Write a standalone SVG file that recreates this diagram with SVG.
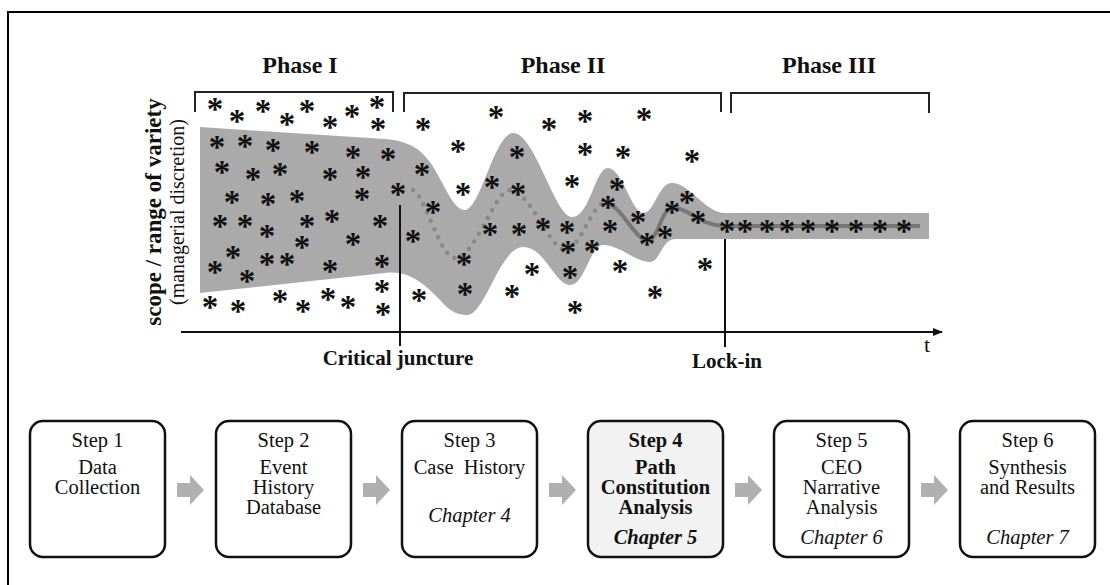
<svg xmlns="http://www.w3.org/2000/svg" width="1110" height="585" viewBox="0 0 1110 585">
  <style>
    .ph { font: bold 24px "Liberation Serif", serif; text-anchor: middle; fill: #111; }
    .ax { font: bold 21px "Liberation Serif", serif; text-anchor: middle; fill: #111; }
    .ylab { font: bold 23px "Liberation Serif", serif; text-anchor: middle; fill: #111; }
    .ysub { font: 20px "Liberation Serif", serif; text-anchor: middle; fill: #111; }
    .a { font: bold 33px "Liberation Serif", serif; text-anchor: middle; fill: #111; }
    .brk { fill: none; stroke: #222; stroke-width: 2; }
    .box { fill: #fff; stroke: #111; stroke-width: 2.5; }
    .box.hl { fill: #f2f2f2; }
    .bt { font: 20.5px "Liberation Serif", serif; text-anchor: middle; fill: #111; }
    .bt.b { font-weight: bold; }
    .bt.i { font-style: italic; }
    .blk { fill: #b0b0b0; }
  </style>
  <defs>
    <path id="blockArrow" d="M0,8 H13 V0 L27,15 L13,30 V22 H0 Z"/>
    <marker id="axHead" markerWidth="10" markerHeight="8" refX="9" refY="4" orient="auto" markerUnits="userSpaceOnUse">
      <path d="M0,0 L10,4 L0,8 Z" fill="#111"/>
    </marker>
  </defs>

  <rect width="1110" height="585" fill="#fff"/>
  <!-- outer frame (top and left edges) -->
  <path d="M8,585 V12 H1110" fill="none" stroke="#000" stroke-width="2"/>

  <!-- path chart -->
  <g id="chart">
    <path d="M200,127 L385,139 C410,141 422,150 432,165 C445,185 453,210 465,210 C480,210 495,133 513,133 C535,133 555,217 572,217 C590,217 595,168 608,168 C622,168 632,213 643,213 C655,213 658,183 672,183 C690,183 705,213 725,213 L929,213 L929,239 L725,239 L675,239 C662,239 660,262 650,262 C635,262 620,245 603,245 C590,245 585,285 570,285 C555,285 545,247 523,247 C500,247 485,315 467,315 C458,315 450,312 440,300 C425,285 410,270 385,273 L200,293 Z" fill="#aaa"/>
    <path d="M413,190 C425,195 440,258 455,258 C475,258 495,190 510,190 C530,190 550,250 565,250 C580,250 592,203 605,203" fill="none" stroke="#888" stroke-width="4.5" stroke-linecap="round" stroke-dasharray="0 9"/>
    <path d="M605,203 C620,203 635,240 647,240 C660,240 660,208 673,208 C690,208 700,226 725,226 L920,226" fill="none" stroke="#777" stroke-width="4"/>

    <!-- phase brackets -->
    <path class="brk" d="M195,112 V92 H393 V112"/>
    <path class="brk" d="M404,112 V93 H721 V112"/>
    <path class="brk" d="M731,113 V93 H929 V113"/>
    <text class="ph" x="300" y="73">Phase I</text>
    <text class="ph" x="563" y="73">Phase II</text>
    <text class="ph" x="829" y="73">Phase III</text>

    <!-- axes and markers in time -->
    <line x1="181" y1="332" x2="942" y2="332" stroke="#111" stroke-width="2" marker-end="url(#axHead)"/>
    <line x1="400" y1="205" x2="400" y2="346" stroke="#111" stroke-width="2"/>
    <line x1="725" y1="239" x2="725" y2="347" stroke="#111" stroke-width="2"/>
    <text x="927" y="352" style="font: 22px 'Liberation Serif', serif; fill: #111; text-anchor: middle">t</text>
    <text class="ax" x="398" y="365">Critical juncture</text>
    <text class="ax" x="727" y="368">Lock-in</text>
    <text class="ylab" transform="translate(161,212) rotate(-90)">scope / range of variety</text>
    <text class="ysub" transform="translate(184,212) rotate(-90)">(managerial discretion)</text>

    <!-- events -->
    <g transform="translate(0,15)">
      <text class="a" x="215" y="105">*</text><text class="a" x="237" y="117">*</text><text class="a" x="263" y="107">*</text>
      <text class="a" x="287" y="120">*</text><text class="a" x="307" y="107">*</text><text class="a" x="330" y="123">*</text>
      <text class="a" x="352" y="112">*</text><text class="a" x="377" y="103">*</text><text class="a" x="378" y="125">*</text>
      <text class="a" x="217" y="143">*</text><text class="a" x="245" y="142">*</text><text class="a" x="273" y="146">*</text>
      <text class="a" x="312" y="148">*</text><text class="a" x="353" y="153">*</text><text class="a" x="388" y="155">*</text>
      <text class="a" x="222" y="168">*</text><text class="a" x="253" y="175">*</text><text class="a" x="280" y="170">*</text>
      <text class="a" x="330" y="175">*</text><text class="a" x="363" y="173">*</text>
      <text class="a" x="232" y="198">*</text><text class="a" x="268" y="200">*</text><text class="a" x="297" y="197">*</text>
      <text class="a" x="362" y="195">*</text><text class="a" x="398" y="190">*</text>
      <text class="a" x="220" y="222">*</text><text class="a" x="245" y="222">*</text><text class="a" x="267" y="232">*</text>
      <text class="a" x="307" y="222">*</text><text class="a" x="332" y="217">*</text><text class="a" x="380" y="222">*</text>
      <text class="a" x="233" y="253">*</text><text class="a" x="302" y="243">*</text><text class="a" x="353" y="240">*</text>
      <text class="a" x="215" y="268">*</text><text class="a" x="247" y="277">*</text><text class="a" x="267" y="260">*</text>
      <text class="a" x="287" y="260">*</text><text class="a" x="330" y="267">*</text><text class="a" x="382" y="262">*</text>
      <text class="a" x="210" y="303">*</text><text class="a" x="238" y="307">*</text><text class="a" x="280" y="297">*</text>
      <text class="a" x="303" y="307">*</text><text class="a" x="328" y="295">*</text><text class="a" x="348" y="303">*</text>
      <text class="a" x="382" y="287">*</text><text class="a" x="383" y="310">*</text>

      <text class="a" x="423" y="125">*</text><text class="a" x="496" y="113">*</text><text class="a" x="549" y="125">*</text>
      <text class="a" x="585" y="117">*</text><text class="a" x="644" y="115">*</text>
      <text class="a" x="458" y="147">*</text><text class="a" x="517" y="153">*</text><text class="a" x="585" y="150">*</text>
      <text class="a" x="623" y="153">*</text><text class="a" x="692" y="157">*</text>
      <text class="a" x="422" y="170">*</text><text class="a" x="463" y="190">*</text><text class="a" x="492" y="183">*</text>
      <text class="a" x="518" y="190">*</text><text class="a" x="572" y="182">*</text><text class="a" x="617" y="185">*</text>
      <text class="a" x="433" y="208">*</text><text class="a" x="608" y="203">*</text><text class="a" x="687" y="198">*</text>
      <text class="a" x="672" y="208">*</text><text class="a" x="638" y="218">*</text><text class="a" x="698" y="218">*</text>
      <text class="a" x="413" y="237">*</text><text class="a" x="490" y="230">*</text><text class="a" x="519" y="230">*</text>
      <text class="a" x="543" y="225">*</text><text class="a" x="567" y="228">*</text><text class="a" x="610" y="227">*</text>
      <text class="a" x="665" y="233">*</text>
      <text class="a" x="568" y="248">*</text><text class="a" x="592" y="247">*</text><text class="a" x="647" y="240">*</text>
      <text class="a" x="464" y="260">*</text><text class="a" x="532" y="270">*</text><text class="a" x="570" y="273">*</text>
      <text class="a" x="620" y="267">*</text><text class="a" x="705" y="265">*</text>
      <text class="a" x="419" y="296">*</text><text class="a" x="465" y="290">*</text><text class="a" x="512" y="292">*</text>
      <text class="a" x="575" y="308">*</text><text class="a" x="655" y="293">*</text>

      <text class="a" x="727" y="227">*</text><text class="a" x="745" y="227">*</text><text class="a" x="767" y="227">*</text>
      <text class="a" x="787" y="227">*</text><text class="a" x="808" y="227">*</text><text class="a" x="832" y="227">*</text>
      <text class="a" x="856" y="227">*</text><text class="a" x="880" y="227">*</text><text class="a" x="904" y="227">*</text>
    </g>
  </g>

  <!-- process steps -->
  <g id="step1">
    <rect class="box" x="30" y="421" width="135" height="136" rx="13"/>
    <text class="bt" x="97.5" y="447">Step 1</text>
    <text class="bt" x="97.5" y="474">Data</text>
    <text class="bt" x="97.5" y="494">Collection</text>
  </g>
  <g id="step2">
    <rect class="box" x="216" y="421" width="135" height="136" rx="13"/>
    <text class="bt" x="283.5" y="447">Step 2</text>
    <text class="bt" x="283.5" y="474">Event</text>
    <text class="bt" x="283.5" y="494">History</text>
    <text class="bt" x="283.5" y="514">Database</text>
  </g>
  <g id="step3">
    <rect class="box" x="402" y="421" width="135" height="136" rx="13"/>
    <text class="bt" x="469.5" y="447">Step 3</text>
    <text class="bt" x="469.5" y="474" xml:space="preserve">Case  History</text>
    <text class="bt i" x="469.5" y="522">Chapter 4</text>
  </g>
  <g id="step4">
    <rect class="box hl" x="588" y="421" width="135" height="136" rx="13"/>
    <text class="bt b" x="655.5" y="447">Step 4</text>
    <text class="bt b" x="655.5" y="474">Path</text>
    <text class="bt b" x="655.5" y="494">Constitution</text>
    <text class="bt b" x="655.5" y="514">Analysis</text>
    <text class="bt b i" x="655.5" y="544">Chapter 5</text>
  </g>
  <g id="step5">
    <rect class="box" x="774" y="421" width="135" height="136" rx="13"/>
    <text class="bt" x="841.5" y="447">Step 5</text>
    <text class="bt" x="841.5" y="474">CEO</text>
    <text class="bt" x="841.5" y="494">Narrative</text>
    <text class="bt" x="841.5" y="514">Analysis</text>
    <text class="bt i" x="841.5" y="544">Chapter 6</text>
  </g>
  <g id="step6">
    <rect class="box" x="960" y="421" width="135" height="136" rx="13"/>
    <text class="bt" x="1027.5" y="447">Step 6</text>
    <text class="bt" x="1027.5" y="474">Synthesis</text>
    <text class="bt" x="1027.5" y="494">and Results</text>
    <text class="bt i" x="1027.5" y="544">Chapter 7</text>
  </g>

  <g id="connectors">
    <use href="#blockArrow" class="blk" x="177" y="475"/>
    <use href="#blockArrow" class="blk" x="363" y="475"/>
    <use href="#blockArrow" class="blk" x="549" y="475"/>
    <use href="#blockArrow" class="blk" x="735" y="475"/>
    <use href="#blockArrow" class="blk" x="921" y="475"/>
  </g>
</svg>
